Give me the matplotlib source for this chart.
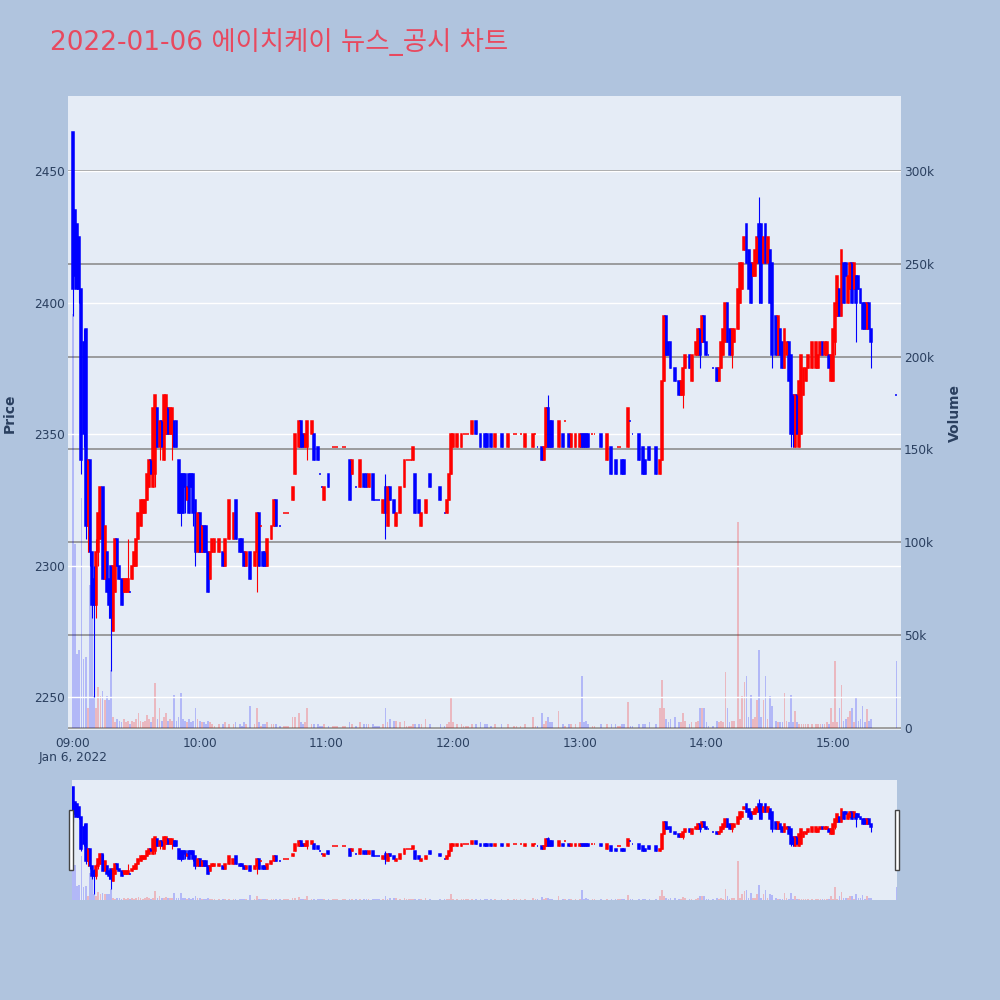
import numpy as np
import matplotlib
matplotlib.use("Agg")
import matplotlib.pyplot as plt
from matplotlib.patches import Rectangle

# minutes after 09:00, one row per traded minute
minute = [
    0, 1, 2, 3, 4, 5, 6, 7, 8, 9, 10, 11, 12, 13, 14, 15, 16, 17, 18, 19,
    20, 21, 22, 23, 24, 25, 26, 27, 28, 29, 30, 31, 32, 33, 34, 35, 36, 37, 38, 39,
    40, 41, 42, 43, 44, 45, 46, 47, 48, 49, 50, 51, 52, 53, 54, 55, 56, 57, 58, 59,
    60, 61, 62, 63, 64, 65, 66, 67,
    69, 71, 72, 74, 76, 77, 79, 80,
    81, 82, 84, 86, 87, 88, 89, 90,
    91, 92, 94, 95, 96, 98, 100, 101,
    102, 104, 105, 107, 108, 109, 110, 111,
    113, 114, 116, 117, 118, 119,
    121, 123, 124, 125, 128, 129, 131, 132,
    134, 136, 138, 139, 140, 142, 143, 144,
    145, 147, 148, 149, 150, 152, 153, 155,
    157, 158, 159, 160, 161, 162, 164, 165,
    167, 169, 174, 176, 177, 178, 179,
    180, 182, 184, 185, 186, 187, 189, 191,
    193, 195, 196, 198, 200, 203, 206, 209,
    210, 212, 214, 218, 219, 220, 222, 223,
    224, 225, 226, 227, 230, 232, 233, 235,
    236, 238,
    240, 241, 242, 243, 244, 246, 247, 250,
    253, 255, 257, 258, 259, 260, 261, 263,
    264, 265, 268, 270, 271, 273, 276, 278,
    279, 280, 281, 282, 283, 285, 287, 288,
    289, 290, 292, 293, 295, 296, 297, 298,
    299,
    300, 301, 303, 305, 306, 307, 308, 309,
    310, 311, 312, 313, 315, 316, 317, 318,
    319, 320, 321, 322, 323, 324, 325, 326,
    327, 328, 329, 330, 331, 333, 334, 335,
    336, 337, 338, 339, 340, 341, 342, 343,
    344, 345, 346, 347, 348,
    350, 352, 353, 354, 355, 356, 357, 358,
    359, 360, 361, 362, 363, 364, 365, 366,
    367, 368, 369, 370, 371, 372, 373, 374,
    375, 376, 377, 378, 390,
]

open_ = [
    2465, 2435, 2430, 2425, 2405, 2385, 2390, 2315, 2340, 2305, 2295, 2285, 2305, 2310, 2330, 2295, 2305, 2295, 2300, 2275,
    2290, 2310, 2300, 2295, 2290, 2290, 2290, 2290, 2295, 2300, 2300, 2310, 2315, 2320, 2320, 2325, 2330, 2340, 2330, 2335,
    2360, 2345, 2355, 2340, 2350, 2360, 2350, 2350, 2355, 2355, 2340, 2335, 2335, 2335, 2325, 2335, 2335, 2335, 2325, 2305,
    2320, 2305, 2315, 2315, 2305, 2295, 2305, 2305,
    2305, 2305, 2300, 2310, 2310, 2325, 2310, 2310,
    2305, 2300, 2305, 2300, 2305, 2320, 2315, 2305,
    2305, 2300, 2310, 2315, 2325, 2315, 2320, 2320,
    2320, 2325, 2335, 2345, 2355, 2350, 2345, 2345,
    2350, 2350, 2345, 2335, 2330, 2325,
    2335, 2345, 2345, 2345, 2345, 2345, 2340, 2335,
    2330, 2330, 2335, 2335, 2330, 2335, 2325, 2325,
    2325, 2320, 2330, 2315, 2330, 2325, 2315, 2320,
    2330, 2340, 2340, 2340, 2340, 2335, 2325, 2315,
    2320, 2335, 2330, 2320, 2320, 2325, 2335,
    2345, 2345, 2345, 2350, 2350, 2350, 2350, 2355,
    2350, 2350, 2350, 2350, 2345, 2350, 2345, 2350,
    2350, 2350, 2345, 2345, 2350, 2345, 2345, 2340,
    2345, 2360, 2355, 2355, 2345, 2350, 2355, 2350,
    2345, 2345,
    2345, 2350, 2350, 2350, 2350, 2350, 2350, 2350,
    2340, 2345, 2340, 2345, 2345, 2340, 2340, 2345,
    2355, 2350, 2350, 2345, 2340, 2345, 2345, 2335,
    2340, 2370, 2395, 2385, 2385, 2375, 2370, 2365,
    2365, 2375, 2380, 2370, 2380, 2380, 2390, 2385,
    2395,
    2385, 2380, 2375, 2375, 2370, 2375, 2380, 2385,
    2400, 2390, 2380, 2385, 2390, 2400, 2405, 2420,
    2430, 2420, 2415, 2410, 2410, 2415, 2430, 2430,
    2415, 2430, 2415, 2420, 2415, 2395, 2380, 2390,
    2385, 2375, 2380, 2385, 2380, 2365, 2345, 2365,
    2345, 2350, 2365, 2370, 2375,
    2375, 2375, 2375, 2380, 2385, 2380, 2380, 2380,
    2370, 2370, 2385, 2395, 2405, 2395, 2415, 2415,
    2400, 2405, 2415, 2405, 2410, 2410, 2405, 2400,
    2400, 2390, 2400, 2390, 2365,
]

high = [
    2465, 2435, 2430, 2425, 2405, 2390, 2390, 2340, 2340, 2305, 2300, 2310, 2320, 2330, 2330, 2315, 2305, 2295, 2300, 2300,
    2310, 2310, 2300, 2295, 2295, 2295, 2310, 2290, 2300, 2305, 2310, 2320, 2325, 2325, 2325, 2335, 2340, 2340, 2360, 2365,
    2360, 2355, 2355, 2365, 2365, 2360, 2360, 2360, 2355, 2355, 2340, 2335, 2335, 2335, 2330, 2335, 2335, 2335, 2325, 2320,
    2320, 2315, 2315, 2315, 2305, 2305, 2310, 2310,
    2310, 2305, 2310, 2325, 2320, 2325, 2310, 2310,
    2305, 2305, 2305, 2305, 2320, 2320, 2315, 2305,
    2305, 2310, 2315, 2325, 2325, 2315, 2320, 2320,
    2320, 2330, 2350, 2355, 2355, 2350, 2350, 2355,
    2355, 2350, 2345, 2335, 2330, 2330,
    2335, 2345, 2345, 2345, 2345, 2345, 2340, 2340,
    2330, 2340, 2335, 2335, 2335, 2335, 2325, 2325,
    2325, 2325, 2335, 2330, 2330, 2325, 2320, 2330,
    2340, 2340, 2340, 2340, 2345, 2335, 2325, 2320,
    2325, 2335, 2330, 2320, 2325, 2335, 2350,
    2350, 2350, 2350, 2350, 2350, 2350, 2355, 2355,
    2350, 2350, 2350, 2350, 2350, 2350, 2350, 2350,
    2350, 2350, 2350, 2350, 2350, 2345, 2345, 2345,
    2360, 2365, 2355, 2355, 2355, 2350, 2355, 2350,
    2350, 2350,
    2350, 2350, 2350, 2350, 2350, 2350, 2350, 2350,
    2350, 2345, 2340, 2345, 2345, 2340, 2340, 2360,
    2355, 2350, 2350, 2345, 2340, 2345, 2345, 2340,
    2370, 2395, 2395, 2385, 2385, 2375, 2370, 2370,
    2375, 2380, 2380, 2380, 2385, 2390, 2390, 2395,
    2395,
    2385, 2380, 2375, 2375, 2375, 2385, 2390, 2400,
    2400, 2390, 2390, 2390, 2405, 2415, 2415, 2425,
    2430, 2420, 2415, 2415, 2420, 2425, 2440, 2430,
    2425, 2430, 2425, 2420, 2415, 2395, 2395, 2390,
    2385, 2390, 2385, 2385, 2380, 2365, 2365, 2365,
    2370, 2380, 2375, 2375, 2380,
    2385, 2385, 2380, 2385, 2385, 2385, 2385, 2380,
    2380, 2390, 2400, 2410, 2405, 2420, 2415, 2415,
    2410, 2415, 2415, 2415, 2410, 2410, 2405, 2400,
    2400, 2400, 2400, 2390, 2365,
]

low = [
    2395, 2405, 2405, 2400, 2335, 2345, 2310, 2305, 2300, 2280, 2250, 2280, 2300, 2310, 2295, 2295, 2290, 2280, 2260, 2275,
    2290, 2300, 2295, 2285, 2290, 2290, 2290, 2290, 2295, 2300, 2300, 2310, 2315, 2320, 2320, 2325, 2330, 2335, 2330, 2330,
    2345, 2340, 2345, 2340, 2350, 2350, 2350, 2340, 2345, 2345, 2320, 2315, 2320, 2320, 2325, 2320, 2330, 2315, 2300, 2305,
    2305, 2305, 2305, 2305, 2290, 2295, 2305, 2305,
    2305, 2300, 2300, 2310, 2310, 2310, 2305, 2305,
    2300, 2300, 2295, 2300, 2290, 2300, 2315, 2300,
    2300, 2300, 2310, 2315, 2315, 2315, 2320, 2320,
    2320, 2325, 2335, 2345, 2345, 2345, 2345, 2340,
    2350, 2340, 2340, 2335, 2330, 2325,
    2330, 2345, 2345, 2345, 2345, 2345, 2325, 2335,
    2330, 2330, 2330, 2330, 2330, 2325, 2325, 2325,
    2325, 2320, 2310, 2315, 2325, 2320, 2315, 2320,
    2330, 2340, 2340, 2340, 2340, 2320, 2320, 2315,
    2320, 2330, 2325, 2320, 2320, 2325, 2335,
    2345, 2345, 2345, 2350, 2350, 2350, 2350, 2350,
    2345, 2345, 2345, 2345, 2345, 2345, 2345, 2350,
    2350, 2350, 2345, 2345, 2350, 2345, 2340, 2340,
    2345, 2345, 2345, 2345, 2345, 2345, 2355, 2345,
    2345, 2345,
    2345, 2345, 2345, 2345, 2345, 2350, 2350, 2345,
    2340, 2335, 2335, 2345, 2345, 2335, 2335, 2345,
    2355, 2350, 2340, 2335, 2335, 2340, 2335, 2335,
    2340, 2370, 2380, 2380, 2375, 2370, 2365, 2365,
    2360, 2375, 2375, 2370, 2380, 2380, 2375, 2385,
    2385,
    2380, 2380, 2375, 2370, 2370, 2375, 2380, 2385,
    2385, 2380, 2375, 2385, 2390, 2400, 2405, 2420,
    2415, 2405, 2400, 2410, 2410, 2415, 2400, 2400,
    2415, 2415, 2415, 2400, 2375, 2380, 2380, 2380,
    2375, 2375, 2380, 2370, 2345, 2345, 2345, 2350,
    2345, 2350, 2365, 2370, 2375,
    2375, 2375, 2375, 2380, 2380, 2380, 2380, 2375,
    2370, 2370, 2380, 2395, 2395, 2395, 2400, 2410,
    2400, 2405, 2400, 2405, 2385, 2405, 2400, 2390,
    2390, 2390, 2390, 2375, 2365,
]

close = [
    2405, 2410, 2405, 2405, 2340, 2350, 2315, 2340, 2305, 2285, 2285, 2305, 2320, 2330, 2295, 2315, 2290, 2285, 2280, 2300,
    2310, 2300, 2295, 2285, 2295, 2295, 2295, 2290, 2300, 2305, 2310, 2320, 2325, 2325, 2325, 2335, 2340, 2335, 2360, 2365,
    2345, 2355, 2345, 2365, 2365, 2350, 2360, 2360, 2345, 2345, 2320, 2320, 2320, 2330, 2330, 2320, 2330, 2320, 2305, 2320,
    2305, 2315, 2305, 2305, 2290, 2305, 2310, 2310,
    2310, 2300, 2310, 2325, 2320, 2310, 2305, 2305,
    2300, 2305, 2295, 2305, 2320, 2300, 2315, 2300,
    2300, 2310, 2315, 2325, 2315, 2315, 2320, 2320,
    2320, 2330, 2350, 2355, 2345, 2345, 2350, 2355,
    2355, 2340, 2340, 2335, 2330, 2330,
    2330, 2345, 2345, 2345, 2345, 2345, 2325, 2340,
    2330, 2340, 2330, 2330, 2335, 2325, 2325, 2325,
    2325, 2325, 2320, 2330, 2325, 2320, 2320, 2330,
    2340, 2340, 2340, 2340, 2345, 2320, 2320, 2320,
    2325, 2330, 2325, 2320, 2325, 2335, 2350,
    2350, 2350, 2350, 2350, 2350, 2350, 2355, 2350,
    2345, 2345, 2345, 2345, 2350, 2345, 2350, 2350,
    2350, 2350, 2350, 2350, 2350, 2345, 2340, 2345,
    2360, 2345, 2345, 2345, 2355, 2345, 2355, 2345,
    2350, 2350,
    2350, 2345, 2345, 2345, 2345, 2350, 2350, 2345,
    2350, 2335, 2335, 2345, 2345, 2335, 2335, 2360,
    2355, 2350, 2340, 2335, 2335, 2340, 2335, 2340,
    2370, 2395, 2380, 2380, 2375, 2370, 2365, 2370,
    2375, 2380, 2375, 2380, 2385, 2390, 2380, 2395,
    2385,
    2380, 2380, 2375, 2370, 2375, 2385, 2390, 2400,
    2385, 2380, 2390, 2390, 2405, 2415, 2415, 2425,
    2415, 2405, 2400, 2415, 2420, 2425, 2415, 2400,
    2425, 2415, 2425, 2400, 2380, 2380, 2395, 2380,
    2375, 2390, 2385, 2370, 2350, 2350, 2365, 2350,
    2370, 2380, 2375, 2375, 2380,
    2385, 2385, 2380, 2385, 2380, 2385, 2385, 2375,
    2380, 2390, 2400, 2410, 2395, 2420, 2400, 2410,
    2410, 2415, 2400, 2415, 2400, 2405, 2400, 2390,
    2390, 2400, 2390, 2385, 2365,
]

# volume in thousands of shares
volume_k = [
    223, 99, 40, 42, 124, 37, 38, 11, 77, 77, 17, 11, 22, 17, 20, 15, 17, 15, 31, 6,
    3, 5, 4, 3, 5, 3, 4, 2, 4, 3, 5, 8, 4, 3, 4, 7, 5, 3, 6, 24,
    5, 11, 4, 6, 8, 4, 5, 4, 18, 4, 6, 19, 5, 4, 3, 5, 3, 4, 11, 5,
    4, 3, 3, 2, 4, 3, 2, 1,
    2, 2, 3, 2, 2, 3, 2, 1,
    3, 2, 12, 2, 11, 3, 1, 2,
    2, 3, 2, 2, 2, 1, 1, 1,
    1, 6, 6, 8, 3, 2, 3, 11,
    2, 2, 2, 1, 1, 2,
    1, 1, 1, 1, 1, 1, 3, 2,
    1, 3, 2, 2, 2, 2, 1, 1,
    1, 2, 11, 3, 5, 4, 4, 3,
    4, 1, 1, 1, 2, 2, 2, 2,
    5, 2, 2, 1, 2, 3, 16,
    3, 2, 2, 1, 1, 1, 2, 2,
    3, 2, 2, 1, 2, 2, 2, 1,
    1, 1, 2, 6, 1, 1, 8, 2,
    4, 6, 3, 3, 9, 2, 1, 2,
    2, 2,
    3, 28, 3, 4, 2, 1, 1, 2,
    2, 2, 2, 1, 1, 2, 2, 14,
    1, 1, 2, 2, 2, 3, 2, 11,
    26, 11, 5, 3, 5, 6, 3, 3,
    8, 4, 2, 3, 3, 4, 11, 11,
    11,
    3, 1, 1, 4, 3, 4, 3, 30,
    11, 3, 4, 4, 111, 5, 17, 25,
    28, 6, 18, 5, 6, 15, 42, 6,
    15, 28, 5, 17, 12, 4, 3, 3,
    3, 19, 4, 3, 18, 3, 9, 3,
    2, 2, 2, 2, 2,
    2, 2, 2, 2, 2, 2, 3, 2,
    11, 3, 36, 3, 11, 23, 4, 5,
    6, 9, 11, 3, 16, 4, 5, 12,
    3, 10, 4, 5, 36,
]

hour_ticks = [0, 60, 120, 180, 240, 300, 360]
hour_labels = ["09:00", "10:00", "11:00", "12:00", "13:00", "14:00", "15:00"]
price_ticks = [2250, 2300, 2350, 2400, 2450]
volume_ticks = [0, 50000, 100000, 150000, 200000, 250000, 300000]
volume_labels = ["0", "50k", "100k", "150k", "200k", "250k", "300k"]

UP = "#ff0000"
DOWN = "#0000ff"
BG = "#b0c4de"
PLOT_BG = "#e5ecf6"
TXT = "#2a3f5f"

x = np.array(minute, dtype=float)
o = np.array(open_, dtype=float)
h = np.array(high, dtype=float)
l = np.array(low, dtype=float)
c = np.array(close, dtype=float)
vol = np.array(volume_k, dtype=float) * 1000

# direction: close vs open, flat minutes follow the move from the previous close
colors = []
for i in range(len(c)):
    if c[i] > o[i]:
        colors.append(UP)
    elif c[i] < o[i]:
        colors.append(DOWN)
    elif i > 0 and c[i] > c[i - 1]:
        colors.append(UP)
    elif i > 0 and c[i] < c[i - 1]:
        colors.append(DOWN)
    else:
        colors.append(colors[-1] if colors else UP)


def draw(ax_vol, ax_price, vol_alpha):
    ax_vol.bar(x, vol, width=0.8, color=colors, alpha=vol_alpha, linewidth=0)
    ax_price.vlines(x, l, h, colors=colors, linewidth=0.8)
    ax_price.bar(x, np.abs(c - o), bottom=np.minimum(o, c), width=0.9,
                 color=colors, edgecolor=colors, linewidth=1.1)


fig = plt.figure(figsize=(10, 10), dpi=100, facecolor=BG)

# main chart: volume axis underneath, price axis on top
ax_vol = fig.add_axes([0.068, 0.27, 0.833, 0.634])
ax_vol.set_facecolor(PLOT_BG)
ax_price = ax_vol.twinx()
ax_price.set_zorder(ax_vol.get_zorder() + 1)
ax_price.patch.set_visible(False)

draw(ax_vol, ax_price, 0.22)

ax_vol.set_xlim(-2.37, 392.2)
ax_vol.set_ylim(-1100, 340400)
ax_price.set_ylim(2237.5, 2478.5)

ax_vol.yaxis.tick_right()
ax_price.yaxis.tick_left()
ax_vol.set_yticks(volume_ticks)
ax_vol.set_yticklabels(volume_labels)
ax_price.set_yticks(price_ticks)
ax_vol.set_xticks(hour_ticks)
ax_vol.set_xticklabels(hour_labels)

ax_vol.grid(axis="y", color="#8e8e8e", linewidth=1.2)
ax_vol.set_axisbelow(True)
ax_price.grid(axis="y", color="white", linewidth=1.0)
ax_price.set_axisbelow(True)
ax_vol.axhline(0, color="white", linewidth=1.6, zorder=0.5)

for a in (ax_vol, ax_price):
    for s in a.spines.values():
        s.set_visible(False)
    a.tick_params(length=0, labelsize=8.7, colors=TXT)
ax_vol.tick_params(axis="x", pad=5)
ax_vol.tick_params(axis="y", pad=2)
ax_price.tick_params(axis="y", pad=2)

fig.text(0.073, 0.242, "Jan 6, 2022", ha="center", va="center", fontsize=8.7, color=TXT)
fig.text(0.010, 0.587, "Price", rotation=90, ha="center", va="center",
         fontsize=10, fontweight="bold", color=TXT)
fig.text(0.955, 0.587, "Volume", rotation=90, ha="center", va="center",
         fontsize=10, fontweight="bold", color=TXT)

fig.text(0.050, 0.950, "2022-01-06 에이치케이 뉴스_공시 차트", ha="left", va="baseline",
         fontsize=19, color="#e8495f", family=["DejaVu Sans", "Noto Sans CJK KR"])

# range slider
sl_vol = fig.add_axes([0.072, 0.10, 0.825, 0.12])
sl_vol.set_facecolor(PLOT_BG)
sl_price = sl_vol.twinx()
sl_price.set_zorder(sl_vol.get_zorder() + 1)
sl_price.patch.set_visible(False)
draw(sl_vol, sl_price, 0.22)
sl_vol.set_xlim(-0.47, 390.3)
sl_vol.set_ylim(-1100, 340400)
sl_price.set_ylim(2237.5, 2478.5)
for a in (sl_vol, sl_price):
    a.set_xticks([])
    a.set_yticks([])
    for s in a.spines.values():
        s.set_visible(False)

for hx in (0.0693, 0.8953):
    fig.patches.append(Rectangle((hx, 0.130), 0.0037, 0.060, transform=fig.transFigure,
                                 facecolor="white", edgecolor="#444444", linewidth=1.0))

fig.savefig("out.png", dpi=100, facecolor=BG)
